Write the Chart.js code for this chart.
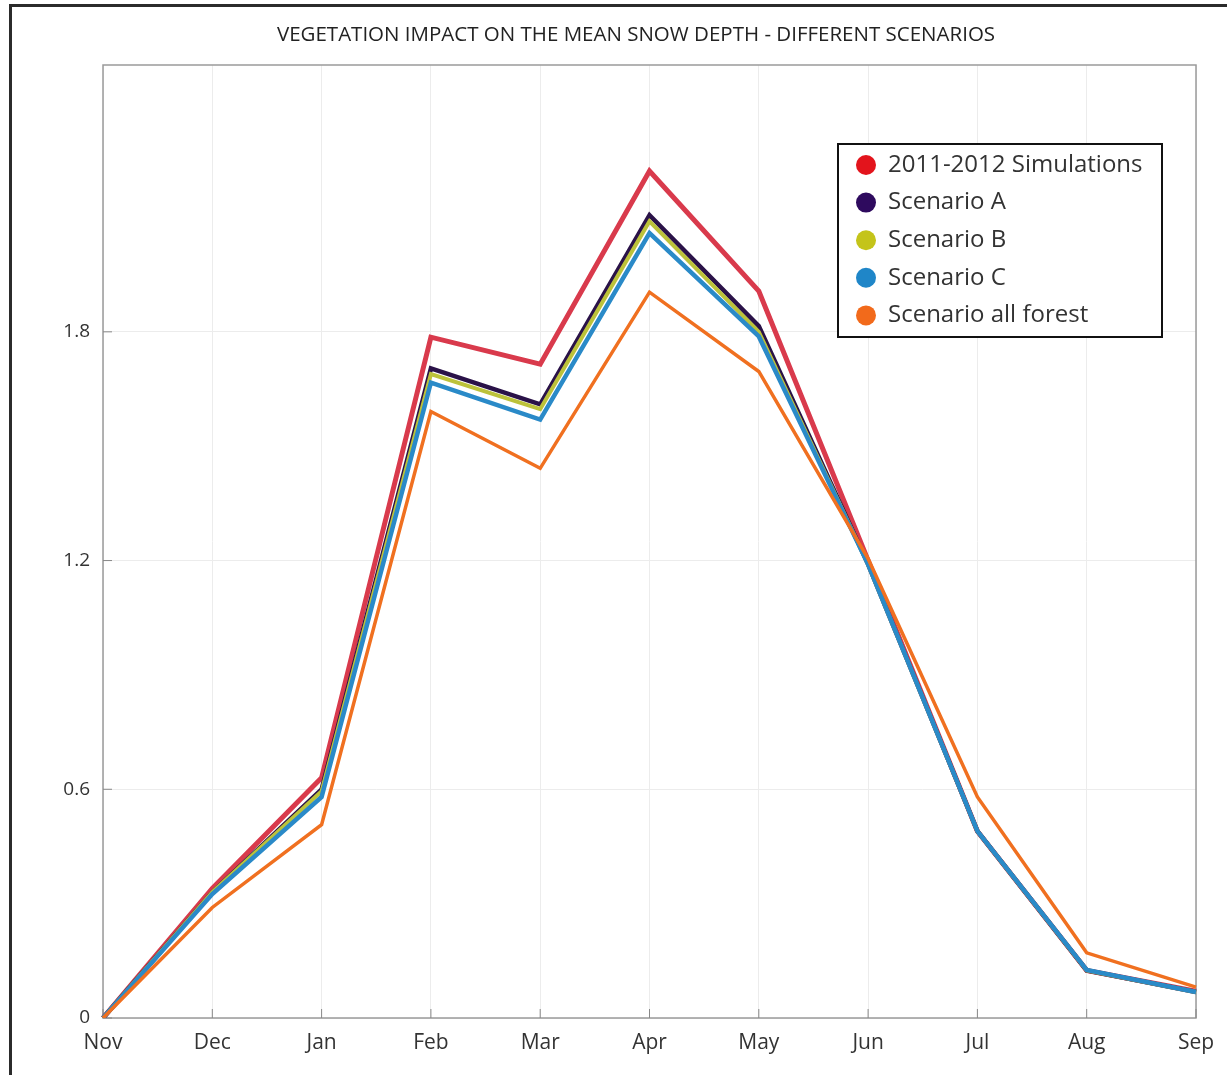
<!DOCTYPE html>
<html><head><meta charset="utf-8">
<script src="https://cdn.jsdelivr.net/npm/chart.js@4.4.1/dist/chart.umd.min.js"></script>
<style>
html,body{margin:0;padding:0;background:#fff;}
#wrap{position:relative;width:1227px;height:1075px;overflow:hidden;}
#frame{position:absolute;left:9px;top:4px;width:1300px;height:1200px;border-left:3px solid #2b2b2b;border-top:3px solid #2b2b2b;}
canvas{position:absolute;left:0;top:0;}
</style></head><body>
<div id="wrap"><div id="frame"></div><canvas id="c" width="1227" height="1075"></canvas></div>
<script>
const titleText = 'VEGETATION IMPACT ON THE MEAN SNOW DEPTH - DIFFERENT SCENARIOS';
const months = ['Nov','Dec','Jan','Feb','Mar','Apr','May','Jun','Jul','Aug','Sep'];
const yTicks = [0, 0.6, 1.2, 1.8];
const seriesNames = ['2011-2012 Simulations','Scenario A','Scenario B','Scenario C','Scenario all forest'];
const sim2011   = [0, 0.34, 0.63, 1.786, 1.715, 2.222, 1.907, 1.20, 0.49, 0.125, 0.070];
const scenarioA = [0, 0.33, 0.60, 1.704, 1.610, 2.106, 1.815, 1.19, 0.49, 0.125, 0.068];
const scenarioB = [0, 0.33, 0.595, 1.689, 1.597, 2.090, 1.800, 1.19, 0.49, 0.125, 0.068];
const scenarioC = [0, 0.325, 0.58, 1.667, 1.570, 2.059, 1.788, 1.19, 0.49, 0.126, 0.068];
const allForest = [0, 0.29, 0.507, 1.591, 1.442, 1.904, 1.696, 1.205, 0.58, 0.171, 0.081];

const lineColors = ['#d93a4c','#2a1248','#bcc23a','#2a8ac8','#f07020'];
const dotColors  = ['#e3141c','#2e0a5e','#c4c41a','#1f86c8','#f26a1b'];
const values = [sim2011, scenarioA, scenarioB, scenarioC, allForest];
const widths = [5, 4.5, 4, 4.5, 3.5];

const titlePlugin = {
  id:'myTitle',
  afterDraw(chart){
    const ctx = chart.ctx; ctx.save();
    ctx.font = "20.5px 'Open Sans'";
    ctx.fillStyle = '#222'; ctx.textAlign='center'; ctx.textBaseline='middle';
    ctx.fillText(titleText, 636, 35);
    ctx.restore();
  }
};
const framePlugin = {
  id:'frame',
  beforeDatasetsDraw(chart){
    const {left,right,top,bottom} = chart.chartArea;
    const ctx = chart.ctx; ctx.save();
    ctx.strokeStyle = '#9a9a9a'; ctx.lineWidth = 1.5;
    ctx.strokeRect(left, top, right-left, bottom-top);
    ctx.strokeStyle = '#888'; ctx.lineWidth = 1;
    const xs = chart.scales.x;
    months.forEach((m,i)=>{ const px = xs.getPixelForValue(i); ctx.beginPath(); ctx.moveTo(px,bottom); ctx.lineTo(px,bottom-9); ctx.stroke(); });
    const ys = chart.scales.y;
    yTicks.forEach(v=>{ const py = ys.getPixelForValue(v); ctx.beginPath(); ctx.moveTo(left,py); ctx.lineTo(left+9,py); ctx.stroke(); });
    ctx.restore();
  }
};
const legendPlugin = {
  id:'boxLegend',
  afterDraw(chart){
    const ctx = chart.ctx; ctx.save();
    const x = 838, y = 144, w = 324, h = 193;
    ctx.fillStyle = '#fff'; ctx.fillRect(x,y,w,h);
    ctx.strokeStyle = '#111'; ctx.lineWidth = 2; ctx.strokeRect(x,y,w,h);
    ctx.font = "24px 'Open Sans'"; ctx.textBaseline='middle'; ctx.textAlign='left';
    chart.data.datasets.forEach((ds,i)=>{
      const cy = y + 21 + i*37.6;
      ctx.beginPath(); ctx.arc(x+28, cy, 10, 0, Math.PI*2);
      ctx.fillStyle = dotColors[i]; ctx.fill();
      ctx.fillStyle = '#333'; ctx.fillText(ds.label, x+50, cy);
    });
    ctx.restore();
  }
};

new Chart(document.getElementById('c'), {
  type:'line',
  data:{
    labels: months,
    datasets: seriesNames.map((name,i)=>({
      label: name, data: values[i], borderColor: lineColors[i], backgroundColor: lineColors[i],
      borderWidth: widths[i], pointRadius: 0, tension: 0, fill:false, order: 5-i
    }))
  },
  options:{
    responsive:false, animation:false, devicePixelRatio:1,
    layout:{padding:{left:10, right:31, top:65, bottom:0}},
    plugins:{legend:{display:false}, title:{display:false}, tooltip:{enabled:false}},
    scales:{
      x:{
        offset:false,
        grid:{color:'#ececec', drawTicks:false},
        border:{display:false},
        ticks:{font:{family:"'Open Sans'", size:21}, color:'#333', padding:12, maxRotation:0, autoSkip:false},
        afterFit(s){ s.height = 57; }
      },
      y:{
        min:0, max:2.5,
        afterBuildTicks(s){ s.ticks = yTicks.map(v=>({value:v})); },
        grid:{color:'#ececec', drawTicks:false},
        border:{display:false},
        ticks:{font:{family:"'Open Sans'", size:19}, color:'#333', padding:13,
               callback:(v)=> String(v)},
        afterFit(s){ s.width = 93; }
      }
    }
  },
  plugins:[framePlugin, legendPlugin, titlePlugin]
});
</script>
</body></html>
